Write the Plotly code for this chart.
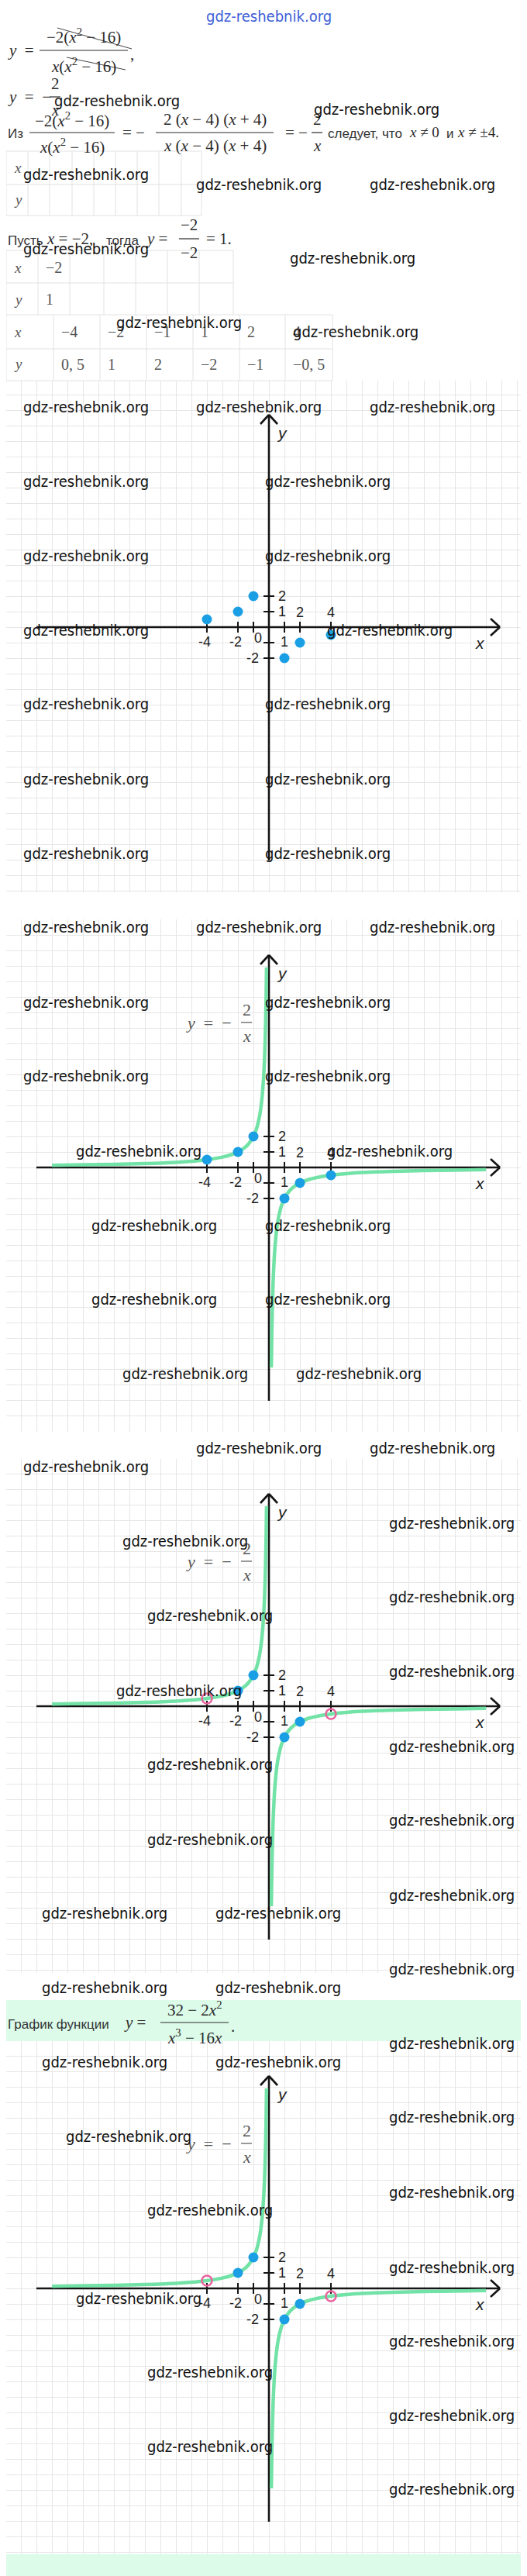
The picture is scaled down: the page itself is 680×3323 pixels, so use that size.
import plotly.graph_objects as go

W, H = 680, 3323
U = 20.0          # pixels per unit on the drawn coordinate planes
OX = 339          # pixel column of x = 0

# ---------------- data ----------------
table1_labels = ["x", "y"]
table2_x = ["−2"]
table2_y = ["1"]
table3_x = ["−4", "−2", "−1", "1", "2", "4"]
table3_y = ["0, 5", "1", "2", "−2", "−1", "−0, 5"]

point_x = [-4, -2, -1, 1, 2, 4]
point_y = [0.5, 1, 2, -2, -1, -0.5]
kept_x = [-2, -1, 1, 2]
kept_y = [1, 2, -2, -1]
hole_x = [-4, 4]
hole_y = [0.5, -0.5]

left_branch_x = [-14, -12, -10, -8, -6, -5, -4, -3, -2.5, -2, -1.6, -1.3, -1, -0.8,
                 -0.6, -0.5, -0.4, -0.33, -0.27, -0.22, -0.18, -0.155]
left_branch_y = [0.14, 0.17, 0.2, 0.25, 0.33, 0.4, 0.5, 0.67, 0.8, 1, 1.25, 1.54, 2, 2.5,
                 3.33, 4, 5, 6.06, 7.4, 9.1, 11.1, 12.9]
right_branch_x = [0.155, 0.18, 0.22, 0.27, 0.33, 0.4, 0.5, 0.6, 0.8, 1, 1.3, 1.6, 2, 2.5,
                  3, 4, 5, 6, 8, 10, 12, 14]
right_branch_y = [-12.9, -11.1, -9.1, -7.4, -6.06, -5, -4, -3.33, -2.5, -2, -1.54, -1.25, -1,
                  -0.8, -0.67, -0.5, -0.4, -0.33, -0.25, -0.2, -0.17, -0.14]

x_tick_vals = [-4, -2, -1, 1, 2, 4]
y_tick_vals = [2, 1, -1, -2]
x_labels_below = ["-4", "-2", "1"]
x_labels_below_at = [-4, -2, 1]
x_labels_above = ["2", "4"]
x_labels_above_at = [2, 4]
y_labels_right = ["2", "1"]
y_labels_right_at = [2, 1]
y_labels_left = ["-2"]
y_labels_left_at = [-2]

WM = "gdz-reshebnik.org"

# ---------------- styles ----------------
SERIF = "Liberation Serif, DejaVu Serif, serif"
SANS = "Liberation Sans, Arial, sans-serif"
NARROW = "Liberation Sans Narrow, Arial Narrow, DejaVu Sans Condensed, sans-serif"
MATH = "#2a2a2a"
GRAY_MATH = "#555555"
BLUE = "#1a9fe4"
GREEN = "#72e2a6"
PINK = "#e9649e"
GRID = "#e6e6e6"
TABLE = "#e2e2e2"
MINT = "#dcfbe9"
SP = "&nbsp;"

annotations = []
shapes = []


def px(x):
    return x / W


def py(y):
    return 1 - y / H


def text(x, y, s, size=21, family=SERIF, color=MATH, xanchor="center"):
    annotations.append(dict(x=px(x), y=py(y), xref="paper", yref="paper", text=s,
                            showarrow=False, xanchor=xanchor, yanchor="middle",
                            font=dict(size=size, family=family, color=color)))


def pline(x0, y0, x1, y1, color=MATH, width=1.2):
    shapes.append(dict(type="line", xref="paper", yref="paper", x0=px(x0), y0=py(y0),
                       x1=px(x1), y1=py(y1), line=dict(color=color, width=width),
                       layer="above"))


def frac(cx, bar_y, num, den, half_w, dy=17, size=21, color=MATH):
    pline(cx - half_w, bar_y, cx + half_w, bar_y, color=color)
    text(cx, bar_y - dy, num, size=size, color=color)
    text(cx, bar_y + dy, den, size=size, color=color)


# ---------------- top text ----------------
text(339, 13, WM, size=20, family=NARROW, color="#3f5fd6")

# line 1: y = -2(x^2-16) / x(x^2-16)
text(0, 57, "<i>y</i>" + SP * 2 + "=", xanchor="left")
frac(100, 57, "−2(<i>x</i><sup>2</sup> − 16)", "<i>x</i>(<i>x</i><sup>2</sup> − 16)", 57, dy=19)
text(158, 62, ",", xanchor="left")
pline(66, 28, 162, 55, color="#444", width=1)
pline(78, 66, 154, 82, color="#444", width=1)

# line 2: y = -2/x
text(0, 117, "<i>y</i>" + SP * 2 + "=" + SP * 2 + "−", xanchor="left")
frac(63, 117, "2", "<i>x</i>", 7, dy=17)

# line 3
text(0, 165, "Из", size=17, family=SANS, color="#333", xanchor="left")
frac(85, 163, "−2(<i>x</i><sup>2</sup> − 16)", "<i>x</i>(<i>x</i><sup>2</sup> − 16)", 55, dy=17)
text(148, 163, "=" + SP + "−", xanchor="left")
frac(269, 163, "2 (<i>x</i> − 4) (<i>x</i> + 4)", "<i>x</i> (<i>x</i> − 4) (<i>x</i> + 4)", 76, dy=17)
text(358, 163, "=" + SP + "−", xanchor="left")
frac(401, 163, "2", "<i>x</i>", 7, dy=17)
text(413, 165, "следует, что", size=17, family=SANS, color="#333", xanchor="left")
text(518, 163, "<i>x</i> ≠ 0", size=19, xanchor="left")
text(566, 165, "и", size=17, family=SANS, color="#333", xanchor="left")
text(580, 163, "<i>x</i> ≠ ±4.", size=19, xanchor="left")

# table 1 (empty)
t1_cols = [0, 28, 56, 85, 113, 141, 169, 197, 226, 252]
for c in t1_cols:
    pline(c, 187, c, 270, color=TABLE, width=1)
for r in [187, 230, 270]:
    pline(0, r, 252, r, color=TABLE, width=1)
text(8, 208, "<i>" + table1_labels[0] + "</i>", size=19, color="#555", xanchor="left")
text(8, 250, "<i>" + table1_labels[1] + "</i>", size=19, color="#555", xanchor="left")

# "Пусть x = -2, тогда y = -2/-2 = 1."
text(0, 302, "Пусть", size=17, family=SANS, color="#333", xanchor="left")
text(50, 300, "<i>x</i>" + SP + "=" + SP + "−2,", xanchor="left")
text(127, 302, "тогда", size=17, family=SANS, color="#333", xanchor="left")
text(178, 300, "<i>y</i>" + SP + "=", xanchor="left")
frac(236, 300, "−2", "−2", 13, dy=18)
text(256, 300, "=" + SP + "1.", xanchor="left")

# table 2
t2_cols = [0, 41, 82, 126, 167, 208, 249, 293]
for c in t2_cols:
    pline(c, 315, c, 398, color=TABLE, width=1)
for r in [315, 357]:
    pline(0, r, 293, r, color=TABLE, width=1)
text(8, 337, "<i>x</i>", size=19, color="#555", xanchor="left")
text(8, 378, "<i>y</i>", size=19, color="#555", xanchor="left")
text(49, 337, table2_x[0], size=20, color="#555", xanchor="left")
text(49, 378, table2_y[0], size=20, color="#555", xanchor="left")

# table 3
t3_cols = [0, 61, 121, 181, 241, 301, 360, 421]
for c in t3_cols:
    pline(c, 398, c, 483, color=TABLE, width=1)
for r in [398, 442, 483]:
    pline(0, r, 421, r, color=TABLE, width=1)
text(8, 420, "<i>x</i>", size=19, color="#555", xanchor="left")
text(8, 462, "<i>y</i>", size=19, color="#555", xanchor="left")
for i, (vx, vy) in enumerate(zip(table3_x, table3_y)):
    text(t3_cols[i + 1] + 8, 420, vx, size=20, color="#555", xanchor="left")
    text(t3_cols[i + 1] + 8, 462, vy, size=20, color="#555", xanchor="left")

# banners
shapes.append(dict(type="rect", xref="paper", yref="paper", x0=0, x1=1, y0=py(2625), y1=py(2572),
                   fillcolor=MINT, line=dict(width=0), layer="below"))
shapes.append(dict(type="rect", xref="paper", yref="paper", x0=0, x1=1, y0=py(3323), y1=py(3287),
                   fillcolor=MINT, line=dict(width=0), layer="below"))
text(0, 2603, "График функции", size=17, family=SANS, color="#333", xanchor="left")
text(150, 2601, "<i>y</i>" + SP + "=", xanchor="left")
frac(243, 2601, "32 − 2<i>x</i><sup>2</sup>", "<i>x</i><sup>3</sup> − 16<i>x</i>", 44, dy=18)
text(288, 2606, ".", xanchor="left")

# ---------------- coordinate planes ----------------
graphs = [
    dict(top=483, bottom=1143, axis=801, curve=False, holes=False),
    dict(top=1178, bottom=1839, axis=1498, curve=True, holes=False),
    dict(top=1874, bottom=2537, axis=2193, curve=True, holes=True),
    dict(top=2625, bottom=3287, axis=2944, curve=True, holes=True),
]

fig = go.Figure()
layout_axes = {}
for n, g in enumerate(graphs, start=1):
    sx = "" if n == 1 else str(n)
    xa, ya = "x" + sx, "y" + sx
    layout_axes["xaxis" + sx] = dict(domain=[0, 1], range=[-OX / U, (W - OX) / U], anchor=ya,
                                     showgrid=True, gridcolor=GRID, gridwidth=1, dtick=1, tick0=0,
                                     zeroline=False, showticklabels=False, ticks="",
                                     showline=False, fixedrange=True)
    layout_axes["yaxis" + sx] = dict(domain=[py(g["bottom"]), py(g["top"])],
                                     range=[-(g["bottom"] - g["axis"]) / U, (g["axis"] - g["top"]) / U],
                                     anchor=xa, showgrid=True, gridcolor=GRID, gridwidth=1, dtick=1,
                                     tick0=0, zeroline=False, showticklabels=False, ticks="",
                                     showline=False, fixedrange=True)

    def dline(x0, y0, x1, y1, width=2.6, color="#141414"):
        shapes.append(dict(type="line", xref=xa, yref=ya, x0=x0, y0=y0, x1=x1, y1=y1,
                           line=dict(color=color, width=width), layer="between"))

    def dtext(x, y, s, size=18, family=SANS, color="#1c1c1c", xanchor="center"):
        annotations.append(dict(x=x, y=y, xref=xa, yref=ya, text=s, showarrow=False,
                                xanchor=xanchor, yanchor="middle",
                                font=dict(size=size, family=family, color=color)))

    ytop = 13.7
    ybot = -15.05
    xl, xr = -15.0, 14.9
    dline(0, ybot, 0, ytop)
    dline(xl, 0, xr, 0)
    dline(-0.55, ytop - 0.6, 0, ytop)
    dline(0.55, ytop - 0.6, 0, ytop)
    dline(xr - 0.6, 0.55, xr, 0)
    dline(xr - 0.6, -0.55, xr, 0)
    for t in x_tick_vals:
        dline(t, -0.35, t, 0.35, width=2)
    for t in y_tick_vals:
        dline(-0.35, t, 0.35, t, width=2)
    for s, t in zip(x_labels_below, x_labels_below_at):
        dtext(t + (-0.15 if t < 0 else 0), -0.95, s)
    for s, t in zip(x_labels_above, x_labels_above_at):
        dtext(t, 0.95, s)
    for s, t in zip(y_labels_right, y_labels_right_at):
        dtext(0.85, t, s)
    for s, t in zip(y_labels_left, y_labels_left_at):
        dtext(-1.05, t, s)
    dtext(-0.7, -0.7, "0")
    dtext(0.85, 12.55, "<i>y</i>", size=21)
    dtext(13.6, -1.0, "<i>x</i>", size=21)

    if g["curve"]:
        for bx, by in [(left_branch_x, left_branch_y), (right_branch_x, right_branch_y)]:
            fig.add_trace(go.Scatter(x=bx, y=by, mode="lines", xaxis=xa, yaxis=ya,
                                     line=dict(color=GREEN, width=4.5, shape="spline", smoothing=0.8),
                                     hoverinfo="skip"))
        # formula label y = -2/x
        dtext(-5.45, 9.35, "<i>y</i>" + SP * 2 + "=" + SP * 2 + "−", size=22, family=SERIF,
              color=GRAY_MATH, xanchor="left")
        shapes.append(dict(type="line", xref=xa, yref=ya, x0=-1.8, x1=-1.1, y0=9.35, y1=9.35,
                           line=dict(color=GRAY_MATH, width=1.2), layer="above"))
        dtext(-1.45, 10.2, "2", size=22, family=SERIF, color=GRAY_MATH)
        dtext(-1.45, 8.5, "<i>x</i>", size=22, family=SERIF, color=GRAY_MATH)

    if g["holes"]:
        fig.add_trace(go.Scatter(x=kept_x, y=kept_y, mode="markers", xaxis=xa, yaxis=ya,
                                 marker=dict(color=BLUE, size=13, line=dict(width=0)),
                                 hoverinfo="skip"))
        fig.add_trace(go.Scatter(x=hole_x, y=hole_y, mode="markers", xaxis=xa, yaxis=ya,
                                 marker=dict(color="rgba(255,255,255,0)", size=13,
                                             line=dict(color=PINK, width=2.5)),
                                 hoverinfo="skip"))
    else:
        fig.add_trace(go.Scatter(x=point_x, y=point_y, mode="markers", xaxis=xa, yaxis=ya,
                                 marker=dict(color=BLUE, size=13, line=dict(width=0)),
                                 hoverinfo="skip"))

# ---------------- watermarks ----------------
watermarks = [
    (143, 122), (478, 133), (103, 217), (326, 230), (550, 230),
    (103, 313), (447, 325), (223, 408), (451, 420),
    (103, 517), (326, 517), (550, 517), (103, 613), (415, 613), (103, 709), (415, 709),
    (103, 805), (495, 805), (103, 900), (415, 900), (103, 997), (415, 997), (103, 1093), (415, 1093),
    (103, 1188), (326, 1188), (550, 1188), (103, 1285), (415, 1285), (103, 1380), (415, 1380),
    (171, 1477), (495, 1477), (191, 1573), (415, 1573), (191, 1668), (415, 1668),
    (231, 1764), (455, 1764),
    (326, 1860), (550, 1860), (103, 1884), (575, 1957), (231, 1980), (575, 2052), (263, 2076),
    (575, 2148), (223, 2173), (575, 2245), (263, 2268), (575, 2340), (263, 2365), (575, 2437),
    (127, 2460), (351, 2460), (575, 2532), (127, 2556), (351, 2556),
    (575, 2628), (127, 2652), (351, 2652), (575, 2723), (158, 2748), (575, 2820), (263, 2843),
    (575, 2917), (171, 2957), (575, 3012), (263, 3052), (575, 3108), (263, 3148), (575, 3203),
]
for (wx, wy) in watermarks:
    text(wx, wy, WM, size=20, family=NARROW, color="#111111")

fig.update_layout(width=W, height=H, margin=dict(l=0, r=0, t=0, b=0),
                  paper_bgcolor="white", plot_bgcolor="white", showlegend=False,
                  hovermode=False, annotations=annotations, shapes=shapes, **layout_axes)

fig.write_html("out.html")
